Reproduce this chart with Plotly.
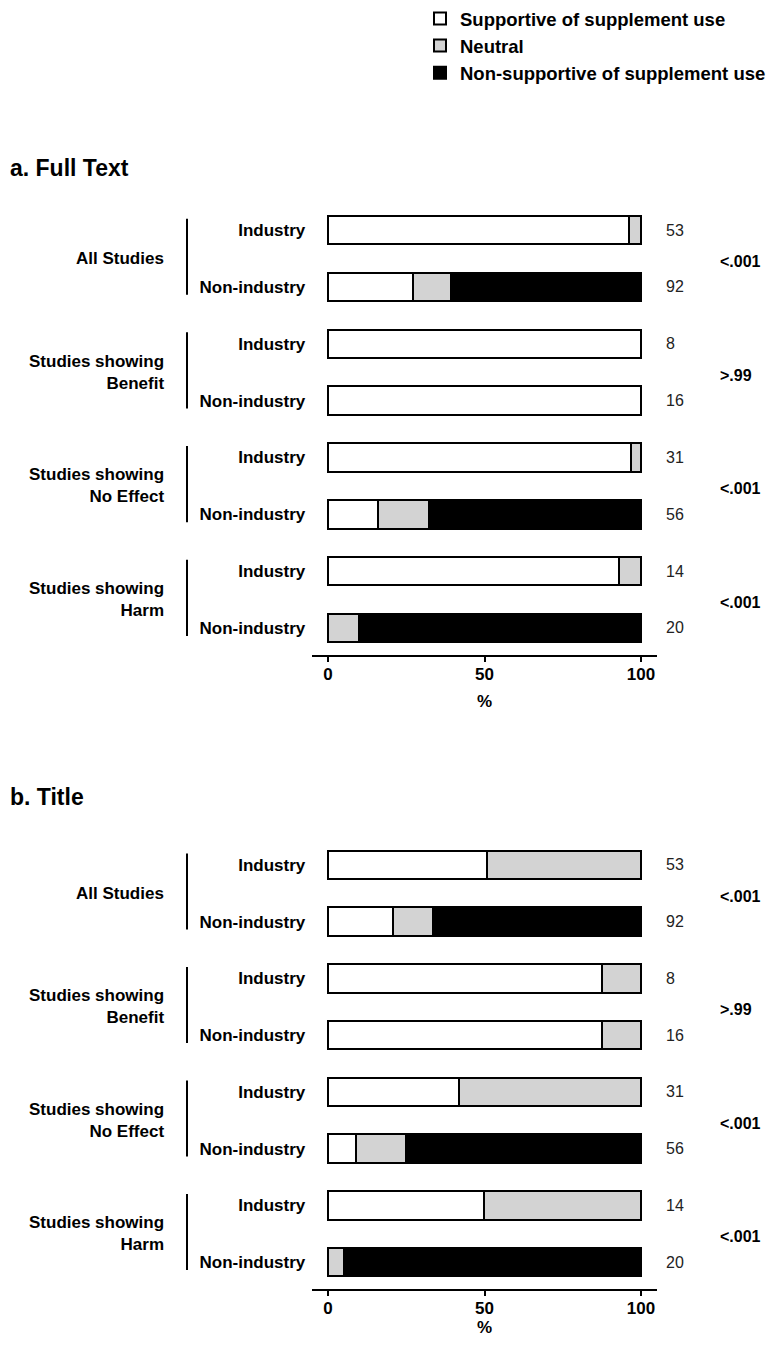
import plotly.graph_objects as go

# ---------------- data ----------------
row_labels = ["Industry", "Non-industry"] * 4
group_labels = ["All Studies", "Studies showing<br>Benefit",
                "Studies showing<br>No Effect", "Studies showing<br>Harm"]
series_names = ["Supportive of supplement use", "Neutral",
                "Non-supportive of supplement use"]

# Panel a: Full Text (percent of studies)
supportive_a = [96.2, 27.2, 100.0, 100.0, 96.8, 16.1, 92.9, 0.0]
neutral_a = [3.8, 12.0, 0.0, 0.0, 3.2, 16.1, 7.1, 10.0]
nonsupportive_a = [0.0, 60.8, 0.0, 0.0, 0.0, 67.8, 0.0, 90.0]

# Panel b: Title (percent of studies)
supportive_b = [50.9, 20.7, 87.5, 87.5, 41.9, 8.9, 50.0, 0.0]
neutral_b = [49.1, 13.0, 12.5, 12.5, 58.1, 16.1, 50.0, 5.0]
nonsupportive_b = [0.0, 66.3, 0.0, 0.0, 0.0, 75.0, 0.0, 95.0]

n_a = [53, 92, 8, 16, 31, 56, 14, 20]
n_b = [53, 92, 8, 16, 31, 56, 14, 20]
p_a = ["<.001", ">.99", "<.001", "<.001"]
p_b = ["<.001", ">.99", "<.001", "<.001"]

panel_titles = ["a. Full Text", "b. Title"]
x_ticks = [0, 50, 100]

# ---------------- style ----------------
FONT = "Liberation Sans, Arial, Helvetica, sans-serif"
colors = ["#ffffff", "#d3d3d3", "#000000"]
PAGE_MARGIN = 8          # default body margin of the html page
W, H = 776 - 2 * PAGE_MARGIN, 1345 - 2 * PAGE_MARGIN
rows = list(range(len(row_labels)))


def px_x(p):
    """screen pixel -> paper x"""
    return (p - PAGE_MARGIN) / W


def px_y(p):
    """screen pixel -> paper y"""
    return 1 - (p - PAGE_MARGIN) / H


fig = go.Figure()

panels = [
    ("x", "y", [supportive_a, neutral_a, nonsupportive_a], n_a, p_a, True),
    ("x2", "y2", [supportive_b, neutral_b, nonsupportive_b], n_b, p_b, False),
]

for xa, ya, series, nvals, pvals, show in panels:
    for name, vals, col in zip(series_names, series, colors):
        fig.add_trace(go.Bar(
            x=vals, y=rows, orientation="h", name=name,
            marker=dict(color=col, line=dict(color="#000000", width=2)),
            width=0.5, xaxis=xa, yaxis=ya, showlegend=show,
            legendgroup=name, hoverinfo="x+name",
        ))

axis_common_x = dict(
    range=[-5, 105], tickmode="array", tickvals=x_ticks,
    showline=True, linecolor="#000000", linewidth=2,
    ticks="outside", ticklen=5, tickwidth=2, tickcolor="#000000",
    ticklabelstandoff=-2,
    showgrid=False, zeroline=False, automargin=False,
    tickfont=dict(family=FONT, size=17, color="#000000", weight="bold"),
    title=dict(text="%", font=dict(family=FONT, size=17, color="#000000", weight="bold"),
               standoff=12),
    fixedrange=True,
)
axis_common_y = dict(
    range=[7.475, -0.475], tickmode="array", tickvals=rows, ticktext=row_labels,
    showline=False, showgrid=False, zeroline=False, ticks="", automargin=False,
    ticklabelstandoff=6,
    tickfont=dict(family=FONT, size=17, color="#000000", weight="bold"),
    fixedrange=True,
)

x_dom = [px_x(312.3), px_x(656.7)]
fig.update_layout(
    width=W, height=H,
    margin=dict(l=0, r=0, t=0, b=0, autoexpand=False),
    paper_bgcolor="#ffffff", plot_bgcolor="#ffffff",
    barmode="stack", bargap=0.5,
    font=dict(family=FONT, color="#000000"),
    xaxis=dict(domain=x_dom, anchor="y", **axis_common_x),
    yaxis=dict(domain=[px_y(655), px_y(203)], anchor="x", **axis_common_y),
    xaxis2=dict(domain=x_dom, anchor="y2", **axis_common_x),
    yaxis2=dict(domain=[px_y(1289), px_y(838)], anchor="x2", **axis_common_y),
    legend=dict(
        x=px_x(420), y=px_y(0), xanchor="left", yanchor="top",
        traceorder="normal", orientation="v",
        font=dict(family=FONT, size=18.5, color="#000000", weight="bold"),
        bgcolor="rgba(0,0,0,0)", itemclick=False, itemdoubleclick=False,
    ),
)

annotations = []
shapes = []
title_y = [168, 797]
for k, (xa, ya, series, nvals, pvals, show) in enumerate(panels):
    yref = ya
    # panel title
    annotations.append(dict(
        text=panel_titles[k], xref="paper", yref="paper",
        x=px_x(8), y=px_y(title_y[k]), xanchor="left", yanchor="middle",
        showarrow=False, font=dict(family=FONT, size=23, color="#000000", weight="bold"),
    ))
    # column headers
    annotations.append(dict(
        text="n", xref="paper", yref=yref, x=px_x(673), y=-0.58,
        xanchor="center", yanchor="middle", showarrow=False,
        font=dict(family=FONT, size=17, color="#000000", weight="bold"),
    ))
    annotations.append(dict(
        text="<i>P</i>", xref="paper", yref=yref, x=px_x(736), y=-0.58,
        xanchor="center", yanchor="middle", showarrow=False,
        font=dict(family=FONT, size=17, color="#000000", weight="bold"),
    ))
    # n values
    for r, n in zip(rows, nvals):
        annotations.append(dict(
            text=str(n), xref="paper", yref=yref, x=px_x(664), y=r,
            xanchor="left", yanchor="middle", showarrow=False,
            font=dict(family=FONT, size=16, color="#222222"),
        ))
    # group labels, brackets, p-values
    for g in range(4):
        r0, r1 = 2 * g, 2 * g + 1
        annotations.append(dict(
            text=group_labels[g], xref="paper", yref=yref, x=px_x(166),
            y=(r0 + r1) / 2, xanchor="right", yanchor="middle", align="right",
            showarrow=False,
            font=dict(family=FONT, size=17, color="#000000", weight="bold"),
        ))
        shapes.append(dict(
            type="line", xref="paper", yref=yref,
            x0=px_x(187), x1=px_x(187), y0=r0 - 0.2, y1=r1 + 0.14,
            line=dict(color="#000000", width=2),
        ))
        annotations.append(dict(
            text=pvals[g].replace("<", "&lt;").replace(">", "&gt;"),
            xref="paper", yref=yref, x=px_x(718), y=(r0 + r1) / 2, yshift=-3,
            xanchor="left", yanchor="middle", showarrow=False,
            font=dict(family=FONT, size=16, color="#000000", weight="bold"),
        ))

fig.update_layout(annotations=annotations, shapes=shapes)
fig.write_html("out.html")
